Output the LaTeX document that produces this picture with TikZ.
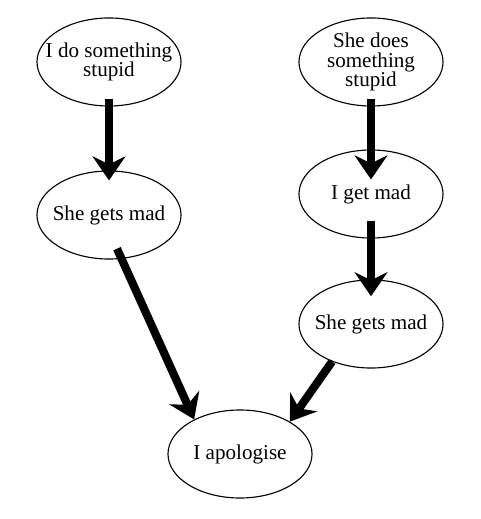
\documentclass[tikz,border=0pt]{standalone}
\usepackage{fontspec}
\setmainfont{Liberation Serif}
\usetikzlibrary{arrows.meta}
\usetikzlibrary{shapes.geometric}
\usetikzlibrary{positioning}

\tikzset{
	bubble/.style={draw,ellipse,line width=0.8pt,minimum width=3.6cm,minimum height=2.2cm,inner xsep=-0.4cm,inner ysep=-0.3cm,align=center,font=\fontsize{15}{14}\selectfont},
	bigarrow/.style={line width=5.8pt,-{Stealth[length=0.6cm,width=0.82cm,inset=0.2cm]}}
}

\begin{document}
\begin{tikzpicture}[x=0.025cm,y=-0.025cm]
		\useasboundingbox (0,0) rectangle (480,519);
		\node[bubble] (istupid) at (109,62) {I do something\\stupid};
		\node[bubble] (shestupid) at (371,62) {She does\\something\\stupid};
		\node[bubble] (shemadleft) at (109,215) {She gets mad};
		\node[bubble] (imad) at (371,194) {I get mad};
		\node[bubble] (shemadright) at (371,324) {She gets mad};
		\node[bubble] (apologise) at (240,454) {I apologise};
		\draw[bigarrow,shorten <=-0.18cm,shorten >=-0.25cm] (istupid.south) -- (shemadleft.north);
		\draw[bigarrow,shorten <=-0.18cm,shorten >=-0.75cm] (shestupid.south) -- (imad.north);
		\draw[bigarrow,shorten <=-0.45cm,shorten >=-0.42cm] (imad.south) -- (shemadright.north);
		\draw[bigarrow,shorten <=-0.28cm] (shemadleft.-74) -- (apologise.143);
		\draw[bigarrow] (shemadright.224) -- (apologise.33);
	\end{tikzpicture}
\end{document}
